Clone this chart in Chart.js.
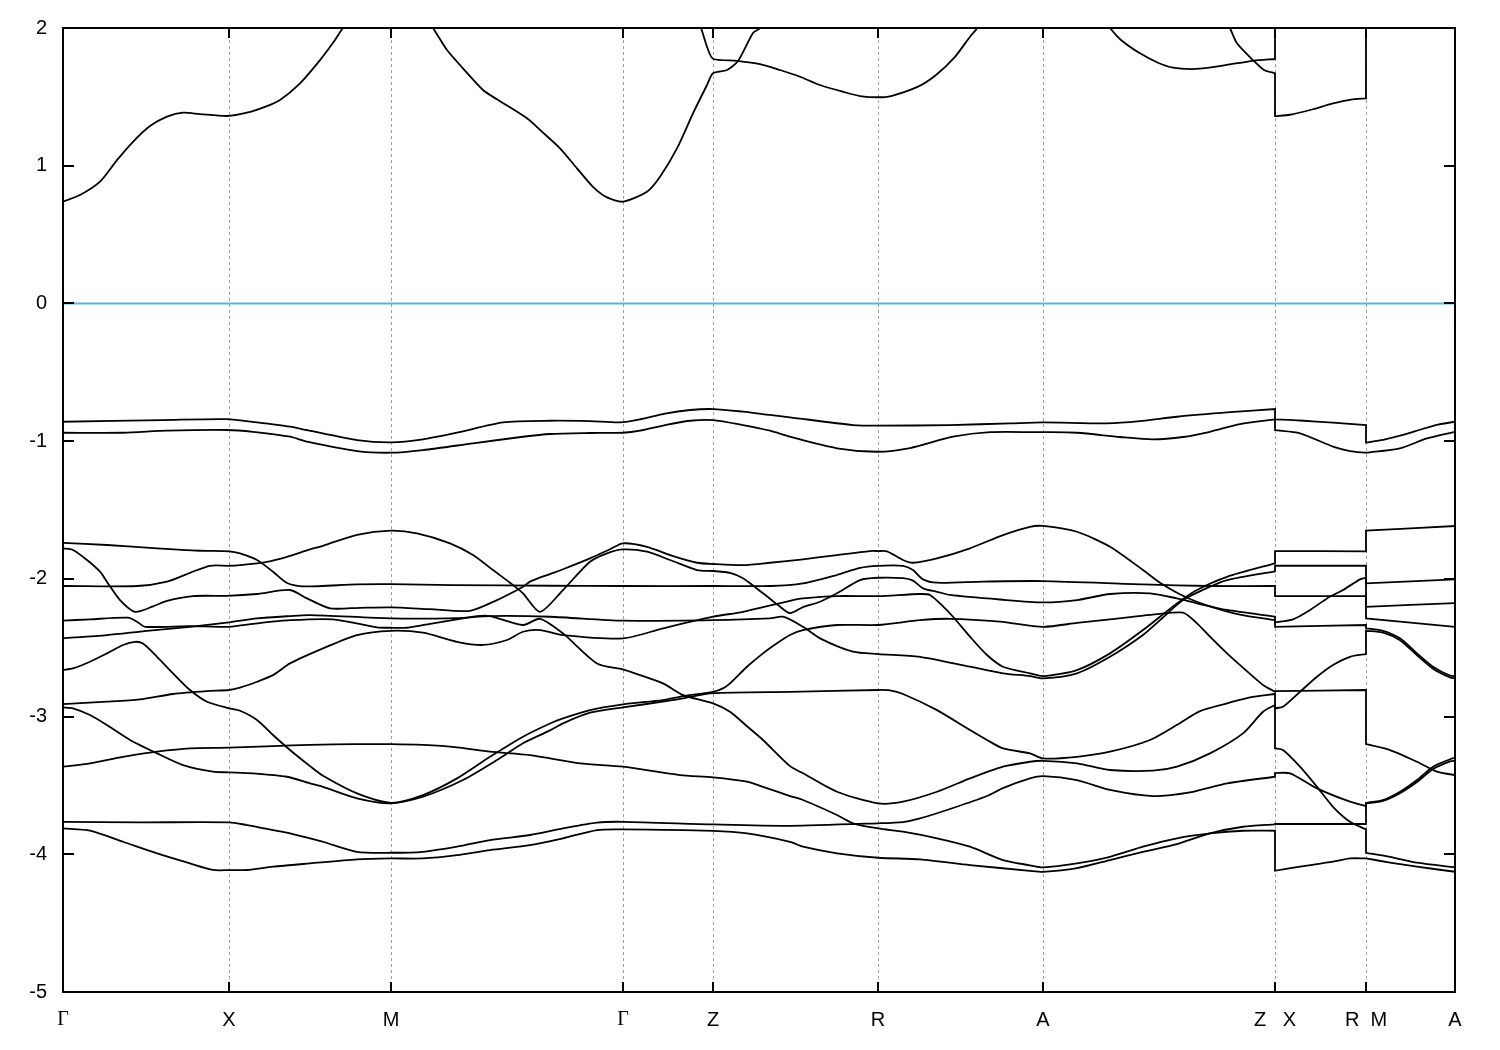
<!DOCTYPE html>
<html>
<head>
<meta charset="utf-8">
<script src="https://cdn.jsdelivr.net/npm/chart.js@4.4.0/dist/chart.umd.min.js"></script>
<style>
  html, body { margin: 0; padding: 0; background: #fff; }
  #wrap { width: 1500px; height: 1050px; }
</style>
</head>
<body>
<div id="wrap"><canvas id="bands" width="1500" height="1050"></canvas></div>
<script>
// --- 1. k-path and axis ticks ---
// path length units, Γ-X-M-Γ-Z-R-A-Z|X-R|M-A
const kPos = [0, 166, 328, 560, 650, 815, 980, 1212, 1303, 1392];
const kLabels = ['Γ', 'X', 'M', 'Γ', 'Z', 'R', 'A', 'Z   X', 'R  M', 'A'];
const yTicks = [-5, -4, -3, -2, -1, 0, 1, 2];

// --- 2. bands, [k, E in eV]; two points at the same k = jump at Z|X or R|M ---
const cb1 = [[0,0.74],[17,0.787],[37,0.884],[54,1.041],[70,1.174],[87,1.288],[104,1.356],[120,1.385],[137,1.375],[164,1.361],[184,1.385],[204,1.433],[217,1.477],[237,1.598],[257,1.767],[270,1.893],[280,2.0],[328,2.45],[370,2.0],[384,1.84],[400,1.707],[420,1.55],[434,1.482],[464,1.344],[480,1.24],[497,1.126],[514,0.981],[530,0.847],[544,0.77],[560,0.739],[584,0.811],[597,0.92],[614,1.126],[630,1.38],[644,1.586],[650,1.671],[664,1.695],[675,1.76],[690,1.964],[697,2.0],[712,2.2]];
const cb2 = [[626,2.2],[638,2.0],[644,1.864],[650,1.777],[674,1.762],[697,1.738],[717,1.695],[737,1.646],[757,1.586],[780,1.537],[797,1.506],[815,1.497],[828,1.506],[855,1.574],[873,1.659],[892,1.791],[907,1.937],[914,1.998],[928,2.2]];
const cb3 = [[1035,2.12],[1047,2.0],[1058,1.913],[1077,1.816],[1095,1.748],[1110,1.712],[1129,1.702],[1148,1.714],[1167,1.736],[1190,1.762],[1212,1.775],[1212,2.4]];
const cb4 = [[1160,2.1],[1167,2.0],[1174,1.889],[1190,1.767],[1201,1.695],[1212,1.671],[1212,1.36],[1227,1.37],[1250,1.41],[1269,1.45],[1288,1.48],[1303,1.489],[1303,2.4]];

const vb1 = [[0,-0.859],[100,-0.847],[164,-0.84],[194,-0.864],[227,-0.895],[244,-0.92],[294,-0.992],[328,-1.009],[360,-0.987],[394,-0.939],[440,-0.864],[487,-0.852],[527,-0.855],[557,-0.864],[577,-0.842],[602,-0.80],[627,-0.774],[650,-0.767],[680,-0.786],[707,-0.81],[727,-0.827],[790,-0.883],[815,-0.888],[887,-0.883],[947,-0.871],[980,-0.864],[1044,-0.871],[1077,-0.855],[1114,-0.823],[1167,-0.79],[1212,-0.767],[1212,-0.842],[1237,-0.85],[1270,-0.866],[1303,-0.883],[1303,-1.01],[1320,-0.99],[1340,-0.955],[1360,-0.91],[1375,-0.88],[1392,-0.859]];
const vb2 = [[0,-0.939],[60,-0.939],[104,-0.924],[164,-0.919],[190,-0.932],[227,-0.968],[244,-1.004],[294,-1.072],[328,-1.084],[360,-1.065],[410,-1.016],[460,-0.968],[487,-0.948],[527,-0.941],[560,-0.939],[577,-0.924],[602,-0.883],[627,-0.852],[650,-0.847],[680,-0.883],[707,-0.924],[727,-0.968],[774,-1.052],[815,-1.077],[847,-1.05],[890,-0.968],[927,-0.934],[980,-0.935],[1014,-0.939],[1057,-0.97],[1090,-0.987],[1120,-0.97],[1147,-0.932],[1177,-0.876],[1212,-0.842],[1212,-0.92],[1237,-0.943],[1270,-1.04],[1287,-1.072],[1303,-1.084],[1303,-1.084],[1337,-1.052],[1364,-0.98],[1392,-0.932]];

const vb3 = [[0,-1.738],[44,-1.754],[94,-1.779],[137,-1.796],[166,-1.80],[177,-1.815],[194,-1.863],[210,-1.948],[224,-2.03],[240,-2.055],[294,-2.04],[328,-2.038],[390,-2.045],[487,-2.05],[560,-2.052],[650,-2.052],[707,-2.052],[740,-2.033],[774,-1.972],[797,-1.92],[815,-1.905],[840,-1.905],[850,-1.936],[860,-2.004],[874,-2.028],[920,-2.02],[980,-2.016],[1080,-2.04],[1147,-2.052],[1212,-2.052],[1212,-2.125],[1303,-2.125],[1303,-2.287],[1392,-2.348]];
const vb4 = [[0,-1.779],[10,-1.79],[24,-1.863],[37,-1.948],[45,-2.033],[57,-2.154],[72,-2.239],[90,-2.20],[104,-2.159],[130,-2.125],[164,-2.123],[194,-2.11],[227,-2.081],[244,-2.142],[267,-2.214],[297,-2.21],[328,-2.207],[367,-2.22],[407,-2.232],[434,-2.154],[460,-2.057],[467,-2.02],[487,-1.965],[500,-1.93],[527,-1.851],[547,-1.785],[560,-1.742],[584,-1.767],[607,-1.827],[634,-1.883],[650,-1.892],[680,-1.90],[707,-1.883],[740,-1.858],[774,-1.827],[807,-1.798],[815,-1.798],[824,-1.80],[840,-1.863],[850,-1.883],[874,-1.851],[907,-1.778],[940,-1.682],[967,-1.622],[980,-1.616],[1014,-1.658],[1047,-1.767],[1080,-1.936],[1097,-2.028],[1122,-2.13],[1147,-2.20],[1177,-2.26],[1212,-2.30],[1212,-2.348],[1303,-2.335],[1303,-2.36],[1320,-2.377],[1337,-2.432],[1354,-2.541],[1370,-2.638],[1387,-2.703],[1392,-2.706]];
const vb5 = [[0,-2.052],[74,-2.052],[104,-2.02],[127,-1.956],[147,-1.905],[166,-1.905],[177,-1.90],[204,-1.876],[224,-1.84],[247,-1.786],[260,-1.76],[294,-1.68],[328,-1.65],[354,-1.67],[387,-1.742],[410,-1.827],[430,-1.936],[447,-2.028],[460,-2.105],[477,-2.239],[500,-2.081],[527,-1.876],[544,-1.815],[560,-1.786],[584,-1.803],[607,-1.863],[634,-1.936],[650,-1.943],[667,-1.956],[680,-1.996],[700,-2.105],[715,-2.19],[727,-2.249],[740,-2.205],[757,-2.166],[774,-2.105],[797,-2.009],[815,-1.992],[840,-1.995],[850,-2.013],[860,-2.069],[874,-2.094],[887,-2.117],[937,-2.15],[980,-2.171],[1014,-2.154],[1047,-2.11],[1087,-2.105],[1114,-2.142],[1134,-2.178],[1164,-2.226],[1212,-2.275],[1212,-2.316],[1230,-2.294],[1247,-2.226],[1264,-2.142],[1280,-2.081],[1297,-2.004],[1303,-1.992],[1303,-2.203],[1392,-2.176]];
const vb6 = [[0,-2.304],[27,-2.294],[65,-2.282],[74,-2.311],[82,-2.348],[127,-2.343],[166,-2.348],[194,-2.323],[227,-2.30],[270,-2.294],[314,-2.352],[328,-2.355],[344,-2.355],[370,-2.323],[400,-2.287],[414,-2.27],[427,-2.27],[460,-2.335],[477,-2.29],[500,-2.396],[534,-2.614],[560,-2.657],[567,-2.674],[600,-2.759],[620,-2.844],[650,-2.904],[667,-2.965],[684,-3.07],[700,-3.17],[727,-3.36],[740,-3.412],[774,-3.546],[815,-3.63],[840,-3.618],[874,-3.546],[907,-3.449],[940,-3.364],[967,-3.328],[980,-3.321],[1014,-3.34],[1047,-3.388],[1090,-3.393],[1114,-3.364],[1147,-3.267],[1180,-3.122],[1200,-2.965],[1212,-2.916],[1212,-3.23],[1220,-3.243],[1237,-3.364],[1254,-3.51],[1270,-3.655],[1287,-3.764],[1303,-3.819],[1303,-3.989],[1327,-4.018],[1354,-4.061],[1392,-4.095]];
const vb7 = [[0,-2.432],[44,-2.408],[84,-2.377],[127,-2.348],[166,-2.316],[194,-2.287],[227,-2.27],[247,-2.263],[328,-2.287],[394,-2.285],[427,-2.27],[487,-2.275],[560,-2.304],[650,-2.30],[707,-2.287],[720,-2.275],[740,-2.348],[757,-2.432],[790,-2.529],[815,-2.546],[857,-2.566],[907,-2.638],[940,-2.686],[967,-2.706],[980,-2.723],[1014,-2.686],[1047,-2.566],[1080,-2.408],[1097,-2.30],[1120,-2.154],[1147,-2.057],[1164,-2.009],[1212,-1.945],[1212,-1.905],[1303,-1.905],[1303,-2.033],[1392,-2.004]];
const vb8 = [[0,-2.662],[10,-2.65],[27,-2.602],[44,-2.541],[60,-2.48],[72,-2.457],[80,-2.47],[94,-2.566],[110,-2.686],[127,-2.807],[144,-2.892],[166,-2.94],[177,-2.958],[194,-3.025],[210,-3.134],[227,-3.243],[247,-3.36],[260,-3.43],[294,-3.558],[328,-3.626],[360,-3.57],[394,-3.449],[427,-3.292],[460,-3.146],[487,-3.05],[500,-3.013],[527,-2.953],[560,-2.911],[600,-2.88],[620,-2.851],[650,-2.82],[660,-2.795],[667,-2.759],[684,-2.638],[700,-2.541],[714,-2.468],[727,-2.408],[740,-2.372],[774,-2.335],[815,-2.335],[857,-2.30],[887,-2.29],[937,-2.31],[980,-2.348],[1014,-2.32],[1047,-2.294],[1097,-2.255],[1120,-2.246],[1134,-2.323],[1147,-2.42],[1164,-2.541],[1187,-2.69],[1200,-2.77],[1212,-2.82],[1212,-2.815],[1303,-2.807],[1303,-3.20],[1327,-3.243],[1354,-3.328],[1374,-3.40],[1392,-3.425]];
const vb9 = [[0,-2.909],[44,-2.892],[77,-2.875],[110,-2.836],[144,-2.815],[166,-2.807],[177,-2.79],[194,-2.747],[210,-2.699],[227,-2.614],[260,-2.505],[294,-2.408],[328,-2.377],[360,-2.391],[394,-2.457],[420,-2.48],[444,-2.444],[460,-2.384],[477,-2.372],[500,-2.408],[560,-2.432],[600,-2.36],[650,-2.275],[680,-2.239],[727,-2.159],[740,-2.142],[774,-2.125],[815,-2.125],[857,-2.11],[867,-2.117],[880,-2.20],[890,-2.275],[907,-2.42],[924,-2.553],[940,-2.638],[967,-2.686],[980,-2.706],[1014,-2.662],[1047,-2.541],[1080,-2.372],[1114,-2.178],[1134,-2.081],[1164,-1.985],[1212,-1.887],[1212,-1.798],[1303,-1.80],[1303,-1.65],[1392,-1.616]];
const vb10 = [[0,-2.933],[10,-2.94],[27,-2.989],[44,-3.062],[67,-3.17],[94,-3.267],[120,-3.352],[150,-3.40],[166,-3.405],[190,-3.412],[224,-3.437],[247,-3.485],[260,-3.51],[294,-3.594],[328,-3.63],[360,-3.582],[400,-3.461],[434,-3.316],[460,-3.194],[487,-3.10],[500,-3.049],[527,-2.972],[560,-2.933],[600,-2.892],[620,-2.868],[650,-2.83],[727,-2.82],[815,-2.807],[827,-2.81],[840,-2.836],[874,-2.953],[907,-3.098],[924,-3.17],[940,-3.231],[967,-3.267],[980,-3.304],[1014,-3.292],[1047,-3.255],[1087,-3.17],[1114,-3.06],[1137,-2.96],[1164,-2.904],[1187,-2.86],[1212,-2.836],[1212,-2.94],[1220,-2.929],[1237,-2.82],[1254,-2.711],[1270,-2.626],[1287,-2.566],[1303,-2.546],[1303,-2.377],[1320,-2.39],[1337,-2.445],[1354,-2.555],[1370,-2.652],[1387,-2.716],[1392,-2.723]];
const vb11 = [[0,-3.364],[27,-3.34],[60,-3.292],[94,-3.255],[127,-3.231],[166,-3.226],[210,-3.214],[247,-3.206],[294,-3.20],[328,-3.20],[360,-3.206],[394,-3.223],[427,-3.255],[467,-3.28],[517,-3.34],[560,-3.364],[617,-3.425],[650,-3.441],[684,-3.473],[700,-3.51],[727,-3.577],[740,-3.606],[774,-3.715],[790,-3.775],[815,-3.812],[840,-3.836],[874,-3.884],[907,-3.945],[940,-4.042],[967,-4.08],[980,-4.095],[1014,-4.066],[1047,-4.018],[1080,-3.945],[1114,-3.884],[1147,-3.848],[1180,-3.829],[1212,-3.829],[1212,-4.12],[1237,-4.09],[1270,-4.054],[1287,-4.03],[1303,-4.03],[1303,-4.03],[1327,-4.06],[1354,-4.09],[1392,-4.127]];
const vb12 = [[0,-3.764],[77,-3.768],[166,-3.768],[184,-3.788],[210,-3.824],[227,-3.848],[247,-3.884],[260,-3.909],[294,-3.982],[328,-3.989],[360,-3.982],[394,-3.945],[427,-3.897],[467,-3.86],[500,-3.812],[534,-3.77],[560,-3.764],[650,-3.783],[727,-3.793],[815,-3.775],[840,-3.766],[857,-3.74],[890,-3.664],[924,-3.577],[940,-3.519],[967,-3.449],[980,-3.432],[1014,-3.461],[1047,-3.533],[1090,-3.577],[1130,-3.546],[1164,-3.485],[1212,-3.437],[1212,-3.41],[1227,-3.412],[1254,-3.521],[1287,-3.618],[1303,-3.65],[1303,-3.626],[1320,-3.606],[1337,-3.546],[1354,-3.461],[1370,-3.364],[1387,-3.31],[1392,-3.30]];
const vb13 = [[0,-3.812],[27,-3.829],[60,-3.909],[94,-3.993],[127,-4.066],[150,-4.114],[166,-4.115],[184,-4.114],[210,-4.09],[247,-4.066],[294,-4.037],[328,-4.03],[360,-4.03],[394,-4.006],[427,-3.969],[467,-3.933],[500,-3.884],[534,-3.824],[560,-3.819],[650,-3.83],[684,-3.848],[727,-3.909],[740,-3.945],[774,-3.993],[815,-4.025],[857,-4.037],[907,-4.078],[967,-4.12],[980,-4.127],[1014,-4.10],[1047,-4.042],[1080,-3.982],[1114,-3.926],[1147,-3.848],[1180,-3.80],[1212,-3.783],[1212,-3.78],[1303,-3.78],[1303,-3.63],[1320,-3.612],[1337,-3.556],[1354,-3.475],[1370,-3.38],[1387,-3.325],[1392,-3.32]];

const fermiLevel = [[0, 0], [1392, 0]];

const allBands = [cb1, cb2, cb3, cb4, vb1, vb2, vb3, vb4, vb5, vb6, vb7, vb8, vb9, vb10, vb11, vb12, vb13];

// --- 3. datasets ---
// a point next to a jump is doubled so the curve meets the jump straight
function toPoints(band) {
    const out = [];
    band.forEach((p, i) => {
        const prev = band[i - 1], next = band[i + 1];
        const atJump = (prev && prev[0] === p[0]) || (next && next[0] === p[0]);
        out.push({ x: p[0], y: p[1] });
        if (atJump) out.push({ x: p[0], y: p[1] });
    });
    return out;
}

const datasets = allBands.map(b => ({
    data: toPoints(b),
    borderColor: '#000',
    borderWidth: 1.8,
    pointRadius: 0,
    fill: false,
    tension: 0.25
}));
datasets.push({
    data: fermiLevel.map(p => ({ x: p[0], y: p[1] })),
    borderColor: '#56b4e9',
    borderWidth: 2,
    pointRadius: 0,
    fill: false,
    tension: 0
});

// frame + inward tick marks (gnuplot style)
const framePlugin = {
    id: 'frame',
    afterDatasetsDraw(chart) {
        const { ctx, chartArea: a, scales: { x, y } } = chart;
        ctx.save();
        ctx.strokeStyle = '#000';
        ctx.lineWidth = 2;
        ctx.strokeRect(a.left, a.top, a.right - a.left, a.bottom - a.top);
        ctx.beginPath();
        yTicks.forEach(v => {
            const py = Math.round(y.getPixelForValue(v));
            ctx.moveTo(a.left, py); ctx.lineTo(a.left + 11, py);
            ctx.moveTo(a.right, py); ctx.lineTo(a.right - 11, py);
        });
        kPos.forEach(v => {
            const px = Math.round(x.getPixelForValue(v));
            ctx.moveTo(px, a.top); ctx.lineTo(px, a.top + 10);
            ctx.moveTo(px, a.bottom); ctx.lineTo(px, a.bottom - 10);
        });
        ctx.stroke();
        ctx.restore();
    }
};

new Chart(document.getElementById('bands'), {
    type: 'line',
    data: { datasets },
    options: {
        responsive: false,
        animation: false,
        devicePixelRatio: 1,
        events: [],
        layout: { padding: { top: 28, right: 45, bottom: 0, left: 0 } },
        plugins: { legend: { display: false }, tooltip: { enabled: false } },
        scales: {
            x: {
                type: 'linear',
                min: 0,
                max: 1392,
                afterBuildTicks: s => { s.ticks = kPos.map(v => ({ value: v })); },
                afterFit: s => { s.height = 58; },
                ticks: {
                    autoSkip: false,
                    maxRotation: 0,
                    padding: 16,
                    color: '#000',
                    callback: (v, i) => kLabels[i],
                    font: c => ({ family: kLabels[c.index] === 'Γ' ? 'Liberation Serif' : 'Liberation Sans', size: 20 })
                },
                grid: { color: '#a0a0a0', lineWidth: 1, drawTicks: false },
                border: { display: false, dash: [3, 3] }
            },
            y: {
                min: -5,
                max: 2,
                afterBuildTicks: s => { s.ticks = yTicks.map(v => ({ value: v })); },
                afterFit: s => { s.width = 63; },
                ticks: {
                    padding: 16,
                    color: '#000',
                    font: { family: 'Liberation Sans', size: 20 },
                    callback: v => String(v)
                },
                grid: { display: false, drawTicks: false },
                border: { display: false }
            }
        }
    },
    plugins: [framePlugin]
});
</script>
</body>
</html>
